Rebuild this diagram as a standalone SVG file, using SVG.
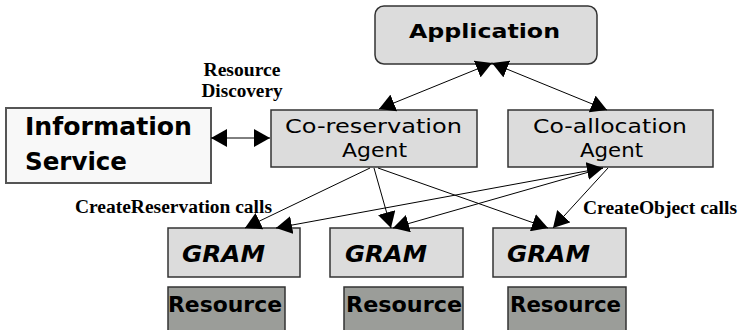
<svg xmlns="http://www.w3.org/2000/svg" width="739" height="330" viewBox="0 0 739 330">
<style>
.box{fill:#dcdcdc;stroke:#333;stroke-width:1.5}
.info{fill:#f8f8f8;stroke:#555;stroke-width:2}
.res{fill:#9b9d99;stroke:#333;stroke-width:1.5}
.t{font-family:"DejaVu Sans",sans-serif;fill:#000}
.tb{font-family:"DejaVu Sans",sans-serif;font-weight:bold;fill:#000}
.tg{font-family:"DejaVu Sans",sans-serif;font-weight:bold;font-style:italic;fill:#000}
.lbl{font-family:"Liberation Serif",serif;font-weight:bold;font-size:18px;fill:#000}
.c{fill:none;stroke:#000;stroke-width:1}
</style>
<defs>
<marker id="ah" markerUnits="userSpaceOnUse" viewBox="0 0 16 18" refX="16" refY="9" markerWidth="16" markerHeight="18" orient="auto-start-reverse">
<path d="M0,0 L16,9 L0,18 z" fill="#000"/>
</marker>
</defs>
<rect width="739" height="330" fill="#fff"/>
<g id="application">
<rect class="box" x="375" y="6" width="222" height="58" rx="9"/>
<text class="tb" x="409" y="38" font-size="20" textLength="151" lengthAdjust="spacingAndGlyphs">Application</text>
</g>
<g id="information-service">
<rect class="info" x="6" y="108" width="205" height="75"/>
<text class="tb" x="25" y="135" font-size="24" textLength="167" lengthAdjust="spacingAndGlyphs">Information</text>
<text class="tb" x="25" y="170" font-size="24" textLength="102" lengthAdjust="spacingAndGlyphs">Service</text>
</g>
<g id="co-reservation-agent">
<rect class="box" x="271" y="110" width="206" height="57"/>
<text class="t" x="285" y="133" font-size="19" textLength="177" lengthAdjust="spacingAndGlyphs">Co-reservation</text>
<text class="t" x="342" y="157" font-size="19" textLength="65" lengthAdjust="spacingAndGlyphs">Agent</text>
</g>
<g id="co-allocation-agent">
<rect class="box" x="508" y="110" width="205" height="57"/>
<text class="t" x="533" y="133" font-size="19" textLength="154" lengthAdjust="spacingAndGlyphs">Co-allocation</text>
<text class="t" x="580" y="157" font-size="19" textLength="63" lengthAdjust="spacingAndGlyphs">Agent</text>
</g>
<g id="gram1">
<rect class="box" x="168" y="228" width="132" height="49"/>
<text class="tg" x="182" y="262" font-size="23" textLength="83" lengthAdjust="spacingAndGlyphs">GRAM</text>
</g>
<g id="gram2">
<rect class="box" x="330" y="228" width="133" height="49"/>
<text class="tg" x="345" y="262" font-size="23" textLength="82" lengthAdjust="spacingAndGlyphs">GRAM</text>
</g>
<g id="gram3">
<rect class="box" x="493" y="228" width="133" height="49"/>
<text class="tg" x="507" y="262" font-size="23" textLength="83" lengthAdjust="spacingAndGlyphs">GRAM</text>
</g>
<g id="resource1">
<rect class="res" x="168" y="287" width="117" height="44"/>
<text class="tb" x="168" y="312" font-size="22" textLength="114" lengthAdjust="spacingAndGlyphs">Resource</text>
</g>
<g id="resource2">
<rect class="res" x="344" y="287" width="119" height="44"/>
<text class="tb" x="346" y="312" font-size="22" textLength="116" lengthAdjust="spacingAndGlyphs">Resource</text>
</g>
<g id="resource3">
<rect class="res" x="508" y="287" width="118" height="44"/>
<text class="tb" x="510" y="312" font-size="22" textLength="111" lengthAdjust="spacingAndGlyphs">Resource</text>
</g>
<g id="connectors">
<path class="c" d="M379,109 L492,63" marker-start="url(#ah)" marker-end="url(#ah)"/>
<path class="c" d="M492,63 L607,110" marker-start="url(#ah)" marker-end="url(#ah)"/>
<path class="c" d="M211,138 L270,138" marker-start="url(#ah)" marker-end="url(#ah)"/>
<path class="c" d="M370,168 L245,228" marker-end="url(#ah)"/>
<path class="c" d="M374,168 L391,228" marker-end="url(#ah)"/>
<path class="c" d="M378,168 L548,228" marker-end="url(#ah)"/>
<path class="c" d="M603,168 L276,228" marker-start="url(#ah)" marker-end="url(#ah)"/>
<path class="c" d="M603,168 L393,228" marker-end="url(#ah)"/>
<path class="c" d="M608,168 L553,228" marker-end="url(#ah)"/>
</g>
<g id="labels">
<text class="lbl" x="242" y="76" text-anchor="middle" textLength="77" lengthAdjust="spacingAndGlyphs">Resource</text>
<text class="lbl" x="242" y="97" text-anchor="middle" textLength="81" lengthAdjust="spacingAndGlyphs">Discovery</text>
<text class="lbl" x="75" y="213" textLength="197" lengthAdjust="spacingAndGlyphs">CreateReservation calls</text>
<text class="lbl" x="583" y="214" textLength="154" lengthAdjust="spacingAndGlyphs">CreateObject calls</text>
</g>
</svg>
